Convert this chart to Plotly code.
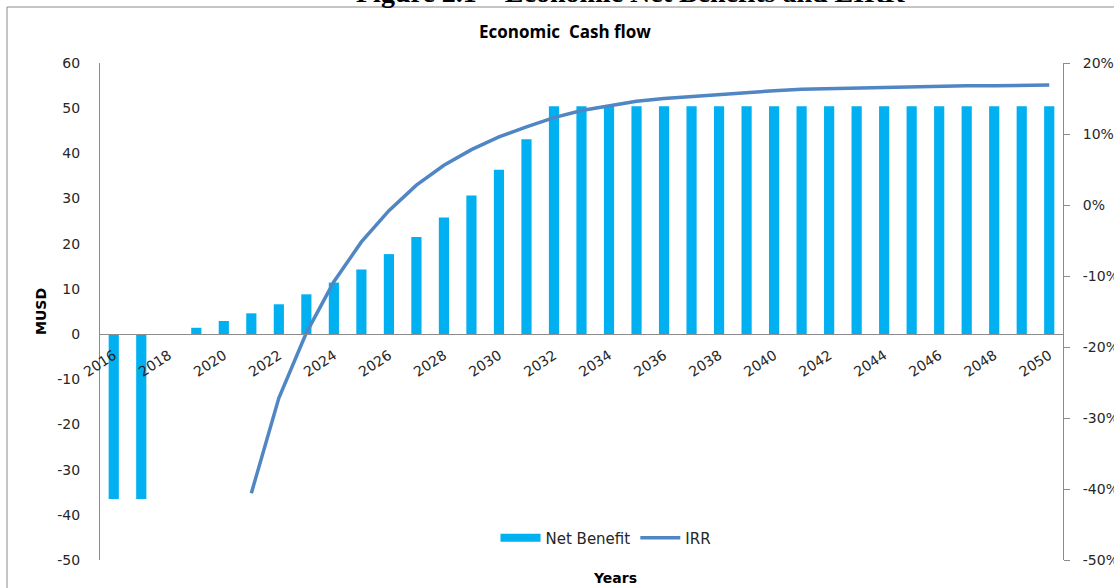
import plotly.graph_objects as go

years = [2016, 2017, 2018, 2019, 2020, 2021, 2022, 2023, 2024, 2025,
         2026, 2027, 2028, 2029, 2030, 2031, 2032, 2033, 2034, 2035,
         2036, 2037, 2038, 2039, 2040, 2041, 2042, 2043, 2044, 2045,
         2046, 2047, 2048, 2049, 2050]

net_benefit = [-36.5, -36.5, 0.0, 1.4, 2.9, 4.6, 6.6, 8.8, 11.4, 14.3,
               17.7, 21.5, 25.8, 30.7, 36.4, 43.1, 50.4, 50.4, 50.4, 50.4,
               50.4, 50.4, 50.4, 50.4, 50.4, 50.4, 50.4, 50.4, 50.4, 50.4,
               50.4, 50.4, 50.4, 50.4, 50.4]

irr_years = [2021, 2022, 2023, 2024, 2025, 2026, 2027, 2028, 2029, 2030,
             2031, 2032, 2033, 2034, 2035, 2036, 2037, 2038, 2039, 2040,
             2041, 2042, 2043, 2044, 2045, 2046, 2047, 2048, 2049, 2050]
irr = [-0.406, -0.272, -0.180, -0.108, -0.052, -0.008, 0.028, 0.056, 0.078, 0.096,
       0.110, 0.123, 0.133, 0.140, 0.146, 0.150, 0.153, 0.156, 0.159, 0.161,
       0.163, 0.164, 0.165, 0.166, 0.167, 0.167, 0.168, 0.168, 0.169, 0.169]

y_ticks = [-50, -40, -30, -20, -10, 0, 10, 20, 30, 40, 50, 60]
y_tick_labels = ["-50", "-40", "-30", "-20", "-10", "0", "10", "20", "30", "40", "50", "60"]
y2_ticks = [-0.5, -0.4, -0.3, -0.2, -0.1, 0.0, 0.1, 0.2]
y2_tick_labels = ["-50%", "-40%", "-30%", "-20%", "-10%", "0%", "10%", "20%"]
y_range = [-50, 60]
y2_range = [-0.5, 0.2]
x_tick_years = years[::2]

W, H = 1114, 588
L, R, T, B = 100, 51, 63, 28
pw, ph = W - L - R, H - T - B


def px_x(px):
    return (px - L) / pw


def px_y(py):
    return (H - B - py) / ph


BAR = "#00B0F0"
LINE = "#4F86C3"
AXIS = "#8C8C8C"
TXT = "#262626"
FS = 14

fig = go.Figure()
fig.add_trace(go.Bar(x=years, y=net_benefit, name="Net Benefit", showlegend=False,
                     marker=dict(color=BAR, line=dict(width=0)), width=0.37))
# legend entry drawn as a wide swatch, like the reference
fig.add_trace(go.Scatter(x=[None], y=[None], name="Net Benefit", mode="lines",
                         line=dict(color=BAR, width=8)))
fig.add_trace(go.Scatter(x=irr_years, y=irr, name="IRR", mode="lines",
                         line=dict(color=LINE, width=3.5), yaxis="y2"))

zero_pos = (0 - y_range[0]) / (y_range[1] - y_range[0])

fig.update_layout(
    width=W, height=H,
    margin=dict(l=L, r=R, t=T, b=B, pad=0),
    paper_bgcolor="white", plot_bgcolor="white",
    font=dict(family="DejaVu Sans", size=FS, color=TXT),
    showlegend=True,
    legend=dict(orientation="h", x=px_x(606), y=px_y(538), xanchor="center",
                yanchor="middle", font=dict(family="DejaVu Sans", size=15, color=TXT),
                bgcolor="rgba(0,0,0,0)", itemwidth=40),
    xaxis=dict(range=[2015.5, 2050.5], tickmode="array", tickvals=x_tick_years,
               ticktext=[str(y) for y in x_tick_years], tickangle=-33,
               anchor="free", position=zero_pos, showline=True, linecolor=AXIS,
               linewidth=1, showgrid=False, zeroline=False, ticks="",
               ticklabelstandoff=7, automargin=False,
               tickfont=dict(family="DejaVu Sans", size=FS, color=TXT)),
    yaxis=dict(range=y_range, tickmode="array", tickvals=y_ticks, ticktext=y_tick_labels,
               showline=True, linecolor=AXIS,
               linewidth=1, showgrid=False, zeroline=False, ticks="",
               ticklabelstandoff=16, automargin=False,
               tickfont=dict(family="DejaVu Sans", size=FS, color=TXT)),
    yaxis2=dict(range=y2_range, tickmode="array", tickvals=y2_ticks, ticktext=y2_tick_labels,
                overlaying="y", side="right", showline=True, linecolor=AXIS,
                linewidth=1, showgrid=False, zeroline=False, ticks="outside",
                ticklen=6, tickcolor=AXIS, ticklabelstandoff=10, automargin=False,
                tickfont=dict(family="DejaVu Sans", size=FS, color=TXT)),
)

# chart-area border (left and top edges visible)
fig.add_shape(type="line", xref="paper", yref="paper",
              x0=px_x(7), x1=px_x(1200), y0=px_y(7), y1=px_y(7),
              line=dict(color=AXIS, width=1))
fig.add_shape(type="line", xref="paper", yref="paper",
              x0=px_x(7), x1=px_x(7), y0=px_y(7), y1=px_y(700),
              line=dict(color=AXIS, width=1))

annotations = [
    dict(text="<b>Figure 2.1 – Economic Net Benefits and EIRR</b>",
         x=px_x(630), y=px_y(10), xanchor="center", yanchor="bottom",
         font=dict(family="Liberation Serif", size=28, color="black")),
    dict(text="<b>Economic  Cash flow</b>", x=px_x(565), y=px_y(32),
         xanchor="center", yanchor="middle",
         font=dict(family="Open Sans", size=17, color="black")),
    dict(text="<b>MUSD</b>", x=px_x(41), y=px_y(312), textangle=-90,
         xanchor="center", yanchor="middle",
         font=dict(family="DejaVu Sans", size=14, color="black")),
    dict(text="<b>Years</b>", x=px_x(615), y=px_y(578),
         xanchor="center", yanchor="middle",
         font=dict(family="DejaVu Sans", size=14, color="black")),
]
for a in annotations:
    a.update(xref="paper", yref="paper", showarrow=False)
fig.update_layout(annotations=annotations)

fig.write_html("out.html")
